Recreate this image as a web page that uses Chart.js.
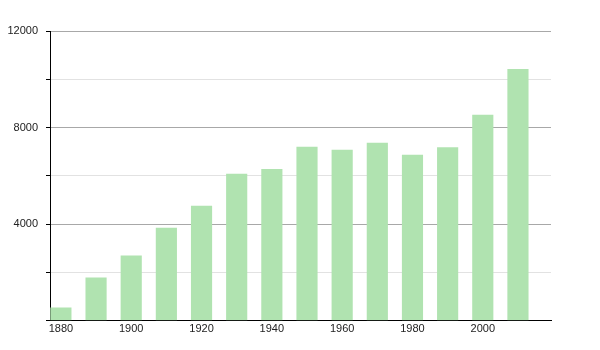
<!DOCTYPE html>
<html>
<head>
<meta charset="utf-8">
<script src="https://cdn.jsdelivr.net/npm/chart.js@4"></script>
<style>
  html, body { margin: 0; padding: 0; background: #fff; }
  #wrap { width: 600px; height: 350px; }
</style>
</head>
<body>
<div id="wrap"><canvas id="chart" width="600" height="350"></canvas></div>
<script>
// population by census year
const years = [1880, 1890, 1900, 1910, 1920, 1930, 1940, 1950, 1960, 1970, 1980, 1990, 2000, 2010];
const population = [530, 1770, 2680, 3830, 4740, 6070, 6270, 7190, 7060, 7350, 6860, 7170, 8510, 10410];

const xTickValues = [1880, 1900, 1920, 1940, 1960, 1980, 2000];
const yTickValues = [0, 2000, 4000, 6000, 8000, 10000, 12000];
const yLabelled = [4000, 8000, 12000];

const barColor = "rgb(176, 227, 176)";

const ctx = document.getElementById("chart").getContext("2d");
new Chart(ctx, {
  type: "bar",
  data: {
    datasets: [{
      data: years.map((y, i) => ({ x: y, y: population[i] })),
      backgroundColor: barColor,
      borderWidth: 0,
      barThickness: 20.5,
    }],
  },
  options: {
    responsive: false,
    animation: false,
    layout: { padding: { top: 31, right: 49, left: 0, bottom: 0 } },
    plugins: {
      legend: { display: false },
      tooltip: { enabled: false },
    },
    scales: {
      x: {
        type: "linear",
        offset: false,
        min: 1876.9,
        max: 2019.4,
        afterBuildTicks: (scale) => {
          scale.ticks = xTickValues.map((v) => ({ value: v }));
        },
        afterFit: (scale) => { scale.height = 29.5; },
        grid: { display: false, drawTicks: false, offset: false },
        border: { display: true, color: "#000", width: 1 },
        ticks: {
          padding: 2,
          color: "#222",
          font: { family: "Liberation Sans", size: 11 },
          maxRotation: 0,
          callback: (v) => String(v),
        },
      },
      y: {
        min: 0,
        max: 12000,
        afterBuildTicks: (scale) => {
          scale.ticks = yTickValues.map((v) => ({ value: v }));
        },
        afterFit: (scale) => { scale.width = 50; },
        grid: {
          color: (c) => {
            if (c.tick.value === 0) return "rgba(0,0,0,0)";
            return yLabelled.includes(c.tick.value) ? "#a8a8a8" : "#e2e2e2";
          },
          tickColor: "#000",
          tickLength: 4,
        },
        border: { display: true, color: "#000", width: 1 },
        ticks: {
          padding: 8,
          color: "#222",
          font: { family: "Liberation Sans", size: 11 },
          callback: (v) => (yLabelled.includes(v) ? String(v) : ""),
        },
      },
    },
  },
});
</script>
</body>
</html>
